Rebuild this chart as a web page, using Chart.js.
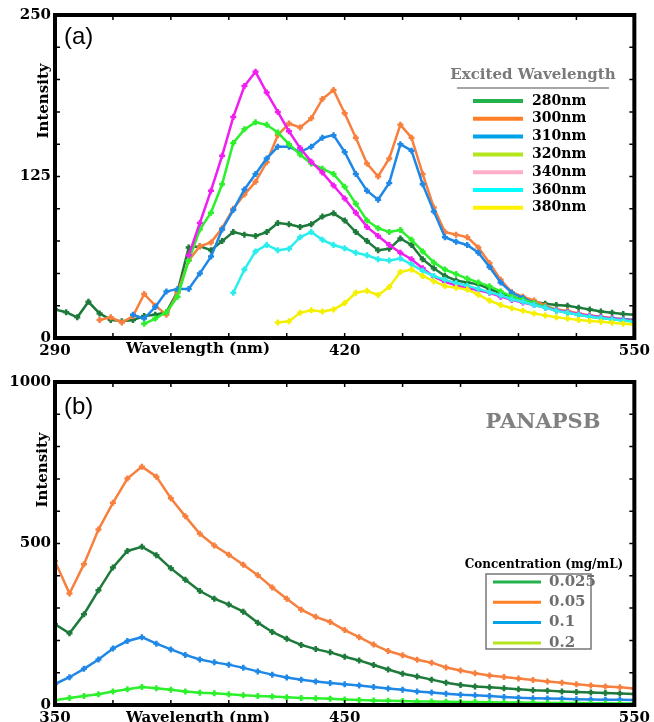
<!DOCTYPE html>
<html>
<head>
<meta charset="utf-8">
<script src="https://cdn.jsdelivr.net/npm/chart.js@4.4.1/dist/chart.umd.min.js"></script>
<style>
  html, body { margin: 0; padding: 0; background: #fff; }
  #wrap { position: relative; width: 654px; height: 722px; overflow: hidden; }
  canvas { position: absolute; left: 0; }
  #chartA { top: 0; }
  #chartB { top: 361px; }
</style>
</head>
<body>
<div id="wrap">
  <canvas id="chartA" width="654" height="361"></canvas>
  <canvas id="chartB" width="654" height="361"></canvas>
</div>
<script>
// (a) emission spectra at several excitation wavelengths
const wavelengthA = [290, 295, 300, 305, 310, 315, 320, 325, 330, 335,
  340, 345, 350, 355, 360, 365, 370, 375, 380, 385,
  390, 395, 400, 405, 410, 415, 420, 425, 430, 435,
  440, 445, 450, 455, 460, 465, 470, 475, 480, 485,
  490, 495, 500, 505, 510, 515, 520, 525, 530, 535,
  540, 545, 550];

const em280 = [22, 20, 16, 28, 19, 14, 13, 14, 17, 18,
  20, 36, 70, 71, 68, 75, 82, 80, 79, 82,
  89, 88, 86, 88, 94, 96.5, 91, 82, 75, 68,
  69, 77, 72, 61, 54, 48, 44.5, 43, 41.5, 38,
  34.5, 32, 30, 28, 26.5, 25.5, 25, 23.5, 22, 20.5,
  19.5, 18.5, 18];
const em300 = [null, null, null, null, 14, 16, 12, 17, 34, 25,
  18, 35, 60, 71, 74, 85, 100, 111, 121, 136,
  157, 166, 163, 170, 185, 192, 174, 155, 135, 125,
  139, 165, 155, 127, 101, 82, 80, 78, 70, 58,
  45, 35.5, 32, 29, 25, 22, 21, 19, 17.5, 16.5,
  15.5, 14.5, 14];
const em310 = [null, null, null, null, null, null, null, 18, 15, 24,
  36, 38, 38, 50, 63, 84, 99, 115, 127, 139,
  148, 148, 144, 148, 155, 157, 144, 127, 114, 107,
  120, 150, 145, 119, 98, 78, 74.5, 72, 66, 55,
  43, 35, 31, 27, 24, 21.5, 20, 18, 17, 16,
  15, 14.5, 14];
const em320 = [null, null, null, null, null, null, null, null, 11, 15,
  20, 32, 60, 84, 97, 119, 151, 161.5, 167, 165,
  159, 150, 142, 135, 131, 127, 117, 104, 91, 85,
  82, 83.5, 76, 67, 58.5, 53, 49.5, 46, 43, 40,
  36, 32, 29.5, 27, 24, 21.5, 19.5, 18, 16.5, 15.5,
  14.5, 13.5, 13];
const em340 = [null, null, null, null, null, null, null, null, null, null,
  null, null, 64, 89, 114, 141, 171, 195, 206, 190,
  175, 160, 147, 136.5, 128, 118, 108, 97, 86, 79,
  72, 66, 61, 54, 47.5, 43.5, 40.7, 38.8, 37, 35,
  32, 29.5, 27.5, 25.5, 23.5, 21.5, 20, 18.5, 17, 16,
  15, 14, 13];
const em360 = [null, null, null, null, null, null, null, null, null, null,
  null, null, null, null, null, null, 35, 53, 67, 72,
  68, 69, 78, 82, 76, 72, 69.5, 66, 64, 61,
  60, 61.5, 57, 52, 48, 45, 42.5, 40.5, 38, 35.5,
  33, 30, 28, 25.5, 23.5, 21, 19.5, 18, 16.5, 15.5,
  14.5, 13.5, 12.5];
const em380 = [null, null, null, null, null, null, null, null, null, null,
  null, null, null, null, null, null, null, null, null, null,
  12, 13, 19.5, 21.5, 20.5, 22, 27, 35, 36.5, 33.3,
  39.5, 51, 53, 48, 44, 40.3, 38.8, 37.5, 33.5, 29,
  25.5, 23, 21, 19, 17.5, 16, 15, 14, 13.2, 12.6,
  11.8, 11, 10.5];

const excitation = ['280nm', '300nm', '310nm', '320nm', '340nm', '360nm', '380nm'];
const spectraA = [em280, em300, em310, em320, em340, em360, em380];
const lineColorsA = ['#1d7a3a', '#f8803f', '#1f88e6', '#2bf02b', '#f01ef0', '#2aeeee', '#f4f000'];
const keyColorsA = ['#22b14c', '#ff7f27', '#00a2e8', '#b5e61d', '#ffaec9', '#00ffff', '#fff200'];
const xTicksA = [290, 316, 342, 368, 394, 420, 446, 472, 498, 524, 550];
const xLabelsA = [290, 420, 550];
const yTicksA = [0, 25, 50, 75, 100, 125, 150, 175, 200, 225, 250];
const yLabelsA = [0, 125, 250];

// (b) PANAPSB emission at several concentrations
const wavelengthB = [350, 355, 360, 365, 370, 375, 380, 385, 390, 395,
  400, 405, 410, 415, 420, 425, 430, 435, 440, 445,
  450, 455, 460, 465, 470, 475, 480, 485, 490, 495,
  500, 505, 510, 515, 520, 525, 530, 535, 540, 545,
  550];
const conc025 = [250, 222, 281, 355, 426, 477, 490, 464, 423, 388,
  353, 329, 311, 289, 255, 226, 205, 186, 173, 163,
  149.5, 138, 124, 110, 97, 88, 78.5, 69, 62, 57,
  55, 52, 48.5, 46, 44.5, 42, 40, 38.5, 37, 35.5,
  34];
const conc05 = [445, 345, 436, 543, 626, 701, 738, 707, 640, 584,
  530, 494, 465, 434, 402, 364, 329, 295, 273, 257,
  232, 210, 187, 167, 154, 140, 131, 116, 107, 98,
  91, 86.5, 82, 77.5, 73, 69, 64, 60, 57.5, 55,
  51];
const conc1 = [65, 86, 112, 141, 175, 198, 210, 190, 172, 155,
  141, 132, 125, 115, 104, 94, 85, 78, 72.5, 68,
  64, 60, 56, 51, 47, 42, 39, 35, 32, 30,
  27.5, 25, 22.5, 21, 20, 19, 18, 17, 16.5, 16,
  15.5];
const conc2 = [15, 22, 28, 33, 42, 49, 56, 52, 47, 42,
  38, 36, 33, 30, 28, 26, 24, 22, 21, 19,
  17, 15.5, 14, 13, 12, 11, 10.5, 10, 9.5, 9,
  8.5, 8, 7.5, 7, 6.5, 6, 6, 5.5, 5.5, 5,
  5];

const concentration = ['0.025', '0.05', '0.1', '0.2'];
const spectraB = [conc025, conc05, conc1, conc2];
const lineColorsB = ['#1d7a3a', '#f8803f', '#1f88e6', '#2bf02b'];
const keyColorsB = ['#22b14c', '#ff7f27', '#00a2e8', '#b5e61d'];
const xTicksB = [350, 370, 390, 410, 430, 450, 470, 490, 510, 530, 550];
const xLabelsB = [350, 450, 550];
const yTicksB = [0, 100, 200, 300, 400, 500, 600, 700, 800, 900, 1000];
const yLabelsB = [0, 500, 1000];

const serif = '"DejaVu Serif", serif';

function series(xs, ys, color, i) {
  return {
    data: xs.map((x, k) => ({ x: x, y: ys[k] })).filter(p => p.y !== null),
    borderColor: color,
    backgroundColor: color,
    borderWidth: 2.5,
    pointStyle: 'cross',
    pointRadius: 3,
    pointHoverRadius: 3,
    pointBorderWidth: 2.5,
    tension: 0,
    order: -i
  };
}

function axisOpts(min, max, tickList, labelList, size) {
  return {
    type: 'linear',
    min: min,
    max: max,
    afterBuildTicks: s => { s.ticks = tickList.map(v => ({ value: v })); },
    afterFit: s => { if (s.isHorizontal()) s.height = size; else s.width = size; },
    grid: { display: false, drawTicks: false },
    border: { display: false },
    ticks: {
      autoSkip: false,
      maxRotation: 0,
      padding: 4,
      color: '#000',
      font: { family: serif, weight: 'bold', size: 15 },
      callback: v => labelList.includes(v) ? String(v) : ''
    }
  };
}

// frame, inward ticks and axis titles
function framePlugin(letter, letterY, titleY, intensityX, intensityY) {
  return {
    id: 'frame' + letter,
    afterDraw(chart) {
      const { ctx, chartArea: a, scales: { x, y } } = chart;
      ctx.save();
      ctx.strokeStyle = '#000';
      ctx.lineWidth = 1.5;
      ctx.beginPath();
      x.ticks.forEach(t => {
        const p = x.getPixelForValue(t.value);
        ctx.moveTo(p, a.bottom); ctx.lineTo(p, a.bottom - 5);
        ctx.moveTo(p, a.top); ctx.lineTo(p, a.top + 5);
      });
      y.ticks.forEach(t => {
        const p = y.getPixelForValue(t.value);
        ctx.moveTo(a.left, p); ctx.lineTo(a.left + 5, p);
        ctx.moveTo(a.right, p); ctx.lineTo(a.right - 5, p);
      });
      ctx.stroke();
      ctx.lineWidth = 4;
      ctx.strokeRect(a.left, a.top, a.right - a.left, a.bottom - a.top);

      ctx.fillStyle = '#000';
      ctx.font = '24px "Liberation Sans", Arial, sans-serif';
      ctx.textAlign = 'left';
      ctx.textBaseline = 'middle';
      ctx.fillText(letter, 64, letterY);

      ctx.font = 'bold 15px ' + serif;
      ctx.textAlign = 'center';
      ctx.fillText('Wavelength (nm)', 198, titleY);

      ctx.translate(intensityX, intensityY);
      ctx.rotate(-Math.PI / 2);
      ctx.fillText('Intensity', 0, 0);
      ctx.restore();
    }
  };
}

const keyA = {
  id: 'keyA',
  afterDraw(chart) {
    const ctx = chart.ctx;
    ctx.save();
    ctx.textBaseline = 'middle';
    ctx.textAlign = 'center';
    ctx.fillStyle = '#7a7a7a';
    ctx.font = 'bold 15px ' + serif;
    ctx.fillText('Excited Wavelength', 533, 75);
    ctx.strokeStyle = '#888';
    ctx.lineWidth = 1.5;
    ctx.beginPath();
    ctx.moveTo(457, 88); ctx.lineTo(609, 88);
    ctx.stroke();
    ctx.textAlign = 'left';
    ctx.font = 'bold 14px ' + serif;
    excitation.forEach((name, i) => {
      const yy = 101 + i * 17.8;
      ctx.strokeStyle = keyColorsA[i];
      ctx.lineWidth = 4;
      ctx.beginPath();
      ctx.moveTo(473, yy); ctx.lineTo(523, yy);
      ctx.stroke();
      ctx.fillStyle = '#000';
      ctx.fillText(name, 532, yy);
    });
    ctx.restore();
  }
};

const keyB = {
  id: 'keyB',
  afterDraw(chart) {
    const ctx = chart.ctx;
    ctx.save();
    ctx.textBaseline = 'middle';
    ctx.textAlign = 'center';
    ctx.fillStyle = '#808080';
    ctx.font = 'bold 21px ' + serif;
    ctx.fillText('PANAPSB', 543, 62);
    ctx.fillStyle = '#000';
    ctx.font = 'bold 12px ' + serif;
    ctx.fillText('Concentration (mg/mL)', 544, 204);
    ctx.strokeStyle = '#777';
    ctx.lineWidth = 1.5;
    ctx.strokeRect(486, 213, 105, 75);
    ctx.textAlign = 'left';
    ctx.font = 'bold 15px ' + serif;
    concentration.forEach((name, i) => {
      const yy = 221 + i * 20.3;
      ctx.strokeStyle = keyColorsB[i];
      ctx.lineWidth = 3;
      ctx.beginPath();
      ctx.moveTo(493, yy); ctx.lineTo(541, yy);
      ctx.stroke();
      ctx.fillStyle = '#6e6e6e';
      ctx.fillText(name, 549, yy);
    });
    ctx.restore();
  }
};

new Chart(document.getElementById('chartA'), {
  type: 'line',
  data: { datasets: spectraA.map((ys, i) => series(wavelengthA, ys, lineColorsA[i], i)) },
  options: {
    responsive: false,
    animation: false,
    layout: { padding: { top: 15, right: 16, left: 0, bottom: 0 } },
    plugins: { legend: { display: false }, tooltip: { enabled: false } },
    scales: {
      x: axisOpts(290, 550, xTicksA, xLabelsA, 23),
      y: axisOpts(0, 250, yTicksA, yLabelsA, 55)
    }
  },
  plugins: [framePlugin('(a)', 37, 349, 44, 101), keyA]
});

new Chart(document.getElementById('chartB'), {
  type: 'line',
  data: { datasets: spectraB.map((ys, i) => series(wavelengthB, ys, lineColorsB[i], i)) },
  options: {
    responsive: false,
    animation: false,
    layout: { padding: { top: 21, right: 16, left: 0, bottom: 0 } },
    plugins: { legend: { display: false }, tooltip: { enabled: false } },
    scales: {
      x: axisOpts(350, 550, xTicksB, xLabelsB, 17),
      y: axisOpts(0, 1000, yTicksB, yLabelsB, 55)
    }
  },
  plugins: [framePlugin('(b)', 46, 357, 43, 109), keyB]
});
</script>
</body>
</html>
